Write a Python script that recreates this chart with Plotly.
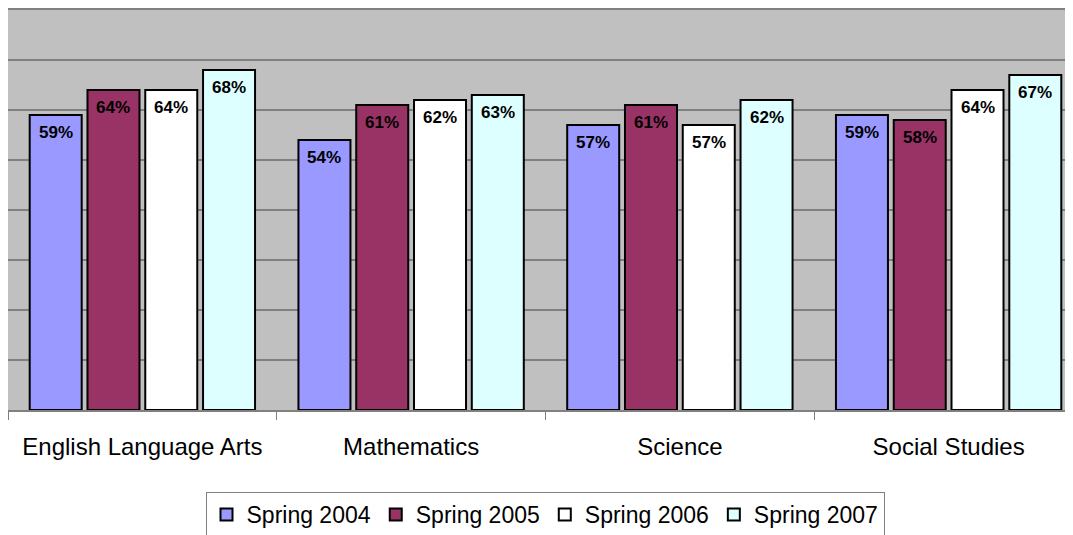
import plotly.graph_objects as go

categories = ["English Language Arts", "Mathematics", "Science", "Social Studies"]
series_names = ["Spring 2004", "Spring 2005", "Spring 2006", "Spring 2007"]
spring_2004 = [59, 54, 57, 59]
spring_2005 = [64, 61, 61, 58]
spring_2006 = [64, 62, 57, 64]
spring_2007 = [68, 63, 62, 67]
series_values = [spring_2004, spring_2005, spring_2006, spring_2007]
colors = ["#9999FF", "#993366", "#FFFFFF", "#DDFFFF"]

W, H = 1075, 527
ML, MR, MT, MB = 0, 0, 0, 125
BARGAP = 0.14
BARGROUPGAP = 0.1

fig = go.Figure()
for name, vals, col in zip(series_names, series_values, colors):
    fig.add_trace(go.Bar(
        x=categories, y=vals, name=name,
        marker=dict(color=col, line=dict(color="black", width=2)),
    ))

# data labels placed inside the top of each bar
cat_px = (W - ML - MR) / len(categories)
slot_px = cat_px * (1 - BARGAP) / len(series_names)
for i, vals in enumerate(series_values):
    shift = (i - (len(series_names) - 1) / 2) * slot_px
    for c, v in zip(categories, vals):
        fig.add_annotation(
            x=c, y=v, xref="x", yref="y",
            text=f"<b>{v}%</b>", showarrow=False,
            xshift=shift, yshift=-17, yanchor="middle", xanchor="center",
            font=dict(family="Arial, Liberation Sans", size=17, color="black"),
        )

fig.update_layout(
    width=W, height=H,
    margin=dict(l=ML, r=MR, t=MT, b=MB),
    paper_bgcolor="white",
    plot_bgcolor="#C0C0C0",
    barmode="group",
    bargap=BARGAP,
    bargroupgap=BARGROUPGAP,
    font=dict(family="Arial, Liberation Sans", color="black"),
    showlegend=True,
    legend=dict(
        orientation="h",
        xref="container", yref="container",
        x=537 / W, xanchor="center",
        y=1 - 484 / H, yanchor="top",
        bordercolor="#808080", borderwidth=1,
        bgcolor="white",
        font=dict(size=23, family="Arial, Liberation Sans", color="black"),
        traceorder="normal",
    ),
    xaxis=dict(
        showline=True, linecolor="#808080", linewidth=2, mirror=True,
        ticks="outside", tickson="boundaries", ticklen=8, tickcolor="#808080",
        tickfont=dict(size=24, family="Arial, Liberation Sans", color="black"),
        ticklabelstandoff=14,
        showgrid=False,
    ),
    yaxis=dict(
        range=[0, 80], dtick=10, showticklabels=False,
        showgrid=True, gridcolor="#808080", gridwidth=1.5,
        showline=True, linecolor="#808080", linewidth=2,
        zeroline=False, ticks="",
    ),
)

fig.write_html("out.html")
